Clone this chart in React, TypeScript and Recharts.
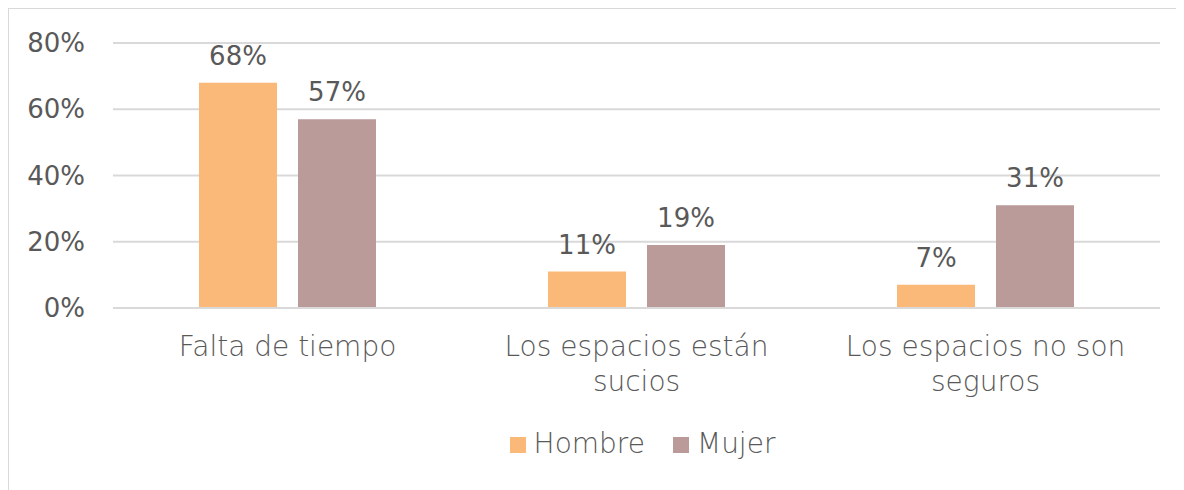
import { BarChart, Bar, XAxis, YAxis, CartesianGrid, Legend, LabelList } from "recharts";

const categories = ["Falta de tiempo", "Los espacios están sucios", "Los espacios no son seguros"];
const categoryLines = [["Falta de tiempo"], ["Los espacios están", "sucios"], ["Los espacios no son", "seguros"]];
const hombre = [68, 11, 7];
const mujer = [57, 19, 31];
const yTicks = [0, 20, 40, 60, 80];

const data = categories.map((name, i) => ({ name, hombre: hombre[i], mujer: mujer[i] }));

const FONT = "'DejaVu Sans', sans-serif";
const TEXT = "#595959";

function CategoryTick(props: any) {
  const { x, y, payload } = props;
  const lines = categoryLines[categories.indexOf(payload.value)] || [payload.value];
  return (
    <g transform={`translate(${x},${y})`}>
      {lines.map((l, i) => (
        <text key={i} x={0} y={40 + i * 35} textAnchor="middle" fill={TEXT} fontSize={28} fontFamily={FONT} fontWeight={300}>
          {l}
        </text>
      ))}
    </g>
  );
}

export default function App() {
  return (
    <div style={{ width: 1176, height: 482, borderTop: "1px solid #d9d9d9", borderLeft: "1px solid #d9d9d9", boxSizing: "border-box", background: "#fff" }}>
      <BarChart
        width={1175}
        height={481}
        data={data}
        margin={{ top: 34, right: 24, bottom: 30, left: 0 }}
        barSize={78}
        barGap={21}
      >
        <CartesianGrid vertical={false} stroke="#d9d9d9" strokeWidth={2} />
        <XAxis
          dataKey="name"
          axisLine={{ stroke: "#d9d9d9", strokeWidth: 2 }}
          tickLine={false}
          height={119}
          tick={<CategoryTick />}
          interval={0}
        />
        <YAxis
          domain={[0, 80]}
          ticks={yTicks}
          axisLine={false}
          tickLine={false}
          tickSize={0}
          tickMargin={28}
          width={104}
          tickFormatter={(v) => `${v}%`}
          tick={{ fill: TEXT, fontSize: 26, fontFamily: FONT }}
        />
        <Legend
          verticalAlign="bottom"
          iconType="square"
          iconSize={16}
          wrapperStyle={{ fontFamily: FONT, fontSize: 28, fontWeight: 300, paddingLeft: 72 }}
          formatter={(v) => <span style={{ color: TEXT, marginLeft: 4, marginRight: 18 }}>{v}</span>}
        />
        <Bar dataKey="hombre" name="Hombre" fill="#FAB978" isAnimationActive={false}>
          <LabelList dataKey="hombre" position="top" offset={18} formatter={(v: any) => `${v}%`} fill={TEXT} fontSize={26} fontFamily={FONT} />
        </Bar>
        <Bar dataKey="mujer" name="Mujer" fill="#BB9A9A" isAnimationActive={false}>
          <LabelList dataKey="mujer" position="top" offset={18} formatter={(v: any) => `${v}%`} fill={TEXT} fontSize={26} fontFamily={FONT} />
        </Bar>
      </BarChart>
    </div>
  );
}
